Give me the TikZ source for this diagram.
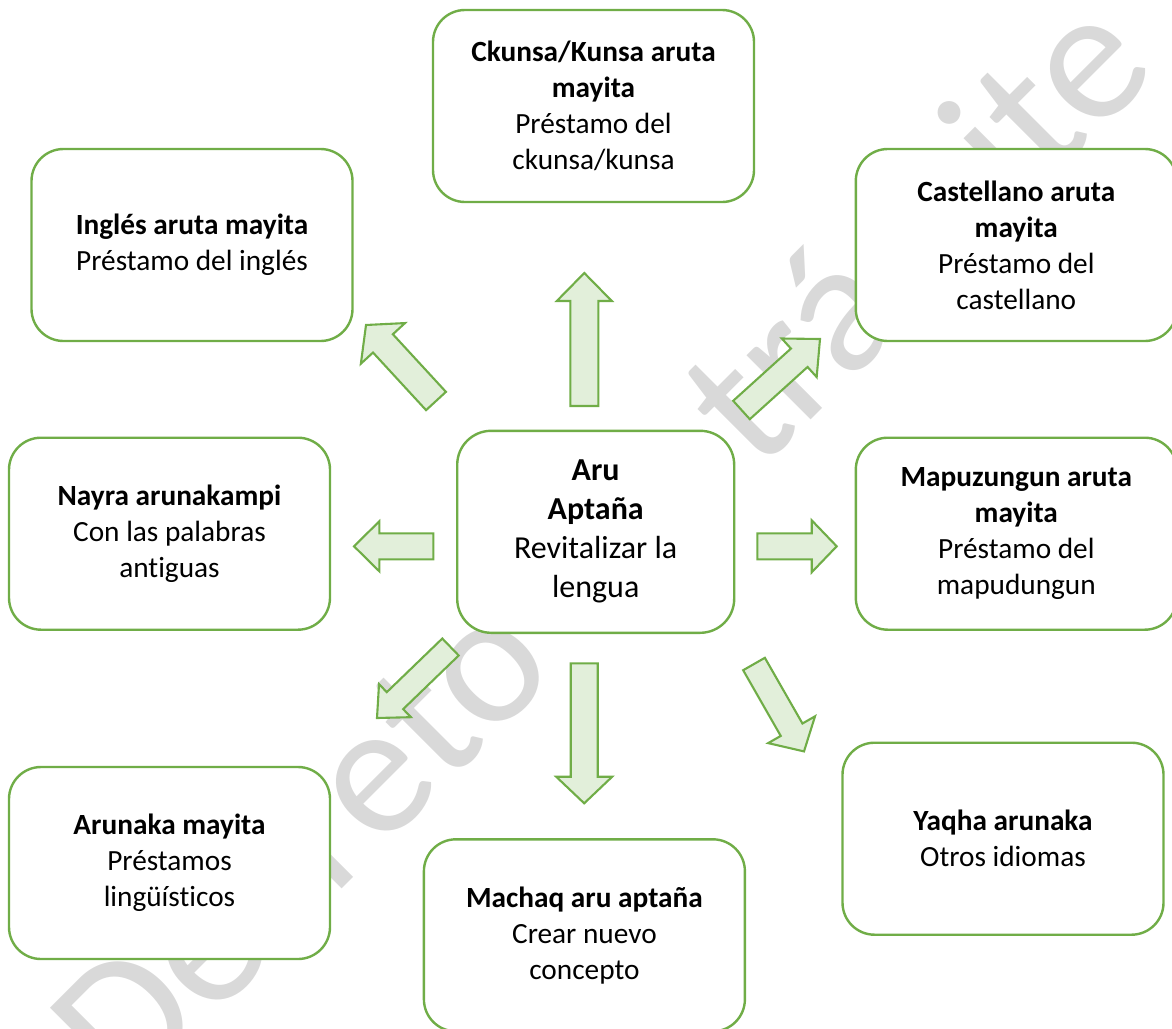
\documentclass[tikz,border=0pt]{standalone}
\usepackage{fontspec}
\setmainfont{Carlito}[Ligatures={NoCommon,NoDiscretionary,NoRare}]
\usetikzlibrary{calc}
\definecolor{boxgreen}{RGB}{112,173,71}
\definecolor{arrowfill}{RGB}{226,239,218}
\definecolor{markgray}{RGB}{217,217,217}

% block arrow from tail #1 to tip #2: shaft half width #3, head half width #4, head length #5
\newcommand\blockarrow[5]{%
  \path ($(#2)!#5!(#1)$) coordinate (hb);
  \draw[arrowbody] ($(#1)!#3!90:(#2)$) -- ($(hb)!#3!90:(#2)$) -- ($(hb)!#4!90:(#2)$)
    -- (#2) -- ($(hb)!#4!-90:(#2)$) -- ($(hb)!#3!-90:(#2)$) -- ($(#1)!#3!-90:(#2)$) -- cycle;}

\begin{document}
\begin{tikzpicture}[x=1pt,y=-1pt,
  card/.style={draw=boxgreen, line width=2.4pt, fill=white, rounded corners=32pt,
    minimum width=321pt, minimum height=192pt, align=center, inner sep=0pt,
    font=\fontsize{29.3}{36}\selectfont},
  hub/.style={card, minimum width=277pt, minimum height=202pt, rounded corners=34pt,
    font=\fontsize{32}{39}\selectfont},
  arrowbody/.style={draw=boxgreen, line width=2.1pt, fill=arrowfill, line join=miter},
  watermark/.style={text=markgray, inner sep=0pt, font=\fontsize{190}{200}\selectfont}]

\useasboundingbox (0,0) rectangle (1172,1028);

% background stamp
\node[watermark, rotate=45] (stamp) at (598,542) {Decreto en trámite};

% boxes
\node[card] (ck)  at (593.5,106)   {\bfseries Ckunsa/Kunsa aruta\\\bfseries mayita\\Préstamo del\\ckunsa/kunsa};
\node[card] (ing) at (192,245)     {\bfseries Inglés aruta mayita\\Préstamo del inglés};
\node[card] (cas) at (1016.3,245)  {\bfseries Castellano aruta\\\bfseries mayita\\Préstamo del\\castellano};
\node[card] (nay) at (169.5,533.7) {\bfseries Nayra arunakampi\\Con las palabras\\antiguas};
\node[hub]  (cen) at (595.7,531.8) {\bfseries Aru\\\bfseries Aptaña\\Revitalizar la\\lengua};
\node[card] (map) at (1016.3,533.7){\bfseries Mapuzungun aruta\\\bfseries mayita\\Préstamo del\\mapudungun};
\node[card] (aru) at (169.5,863)   {\bfseries Arunaka mayita\\Préstamos\\lingüísticos};
\node[card] (mac) at (584.4,935.3) {\bfseries Machaq aru aptaña\\Crear nuevo\\concepto};
\node[card] (yaq) at (1003,838.7)  {\bfseries Yaqha arunaka\\Otros idiomas};

% arrow ends
\coordinate (upT) at (584.3,406);   \coordinate (upH) at (584.3,273);
\coordinate (ulT) at (436,401);     \coordinate (ulH) at (366,325);
\coordinate (urT) at (741.5,410);   \coordinate (urH) at (820,339);
\coordinate (lfT) at (433.3,546.3); \coordinate (lfH) at (354,546.3);
\coordinate (rtT) at (757.3,546.3); \coordinate (rtH) at (836.7,546.3);
\coordinate (dlT) at (450.5,647);   \coordinate (dlH) at (377,718);
\coordinate (dnT) at (584.2,663.3); \coordinate (dnH) at (584.2,803.3);
\coordinate (drT) at (754,664);     \coordinate (drH) at (804,751.4);

\blockarrow{upT}{upH}{14pt}{27.5pt}{28pt}
\blockarrow{ulT}{ulH}{13.5pt}{30pt}{25pt}
\blockarrow{urT}{urH}{12.4pt}{26pt}{28pt}
\blockarrow{lfT}{lfH}{13pt}{25pt}{25.3pt}
\blockarrow{rtT}{rtH}{13pt}{26pt}{25pt}
\blockarrow{dlT}{dlH}{11.8pt}{23pt}{25pt}
\blockarrow{dnT}{dnH}{13.5pt}{28pt}{26.6pt}
\blockarrow{drT}{drH}{12.5pt}{27pt}{25pt}
\end{tikzpicture}
\end{document}
